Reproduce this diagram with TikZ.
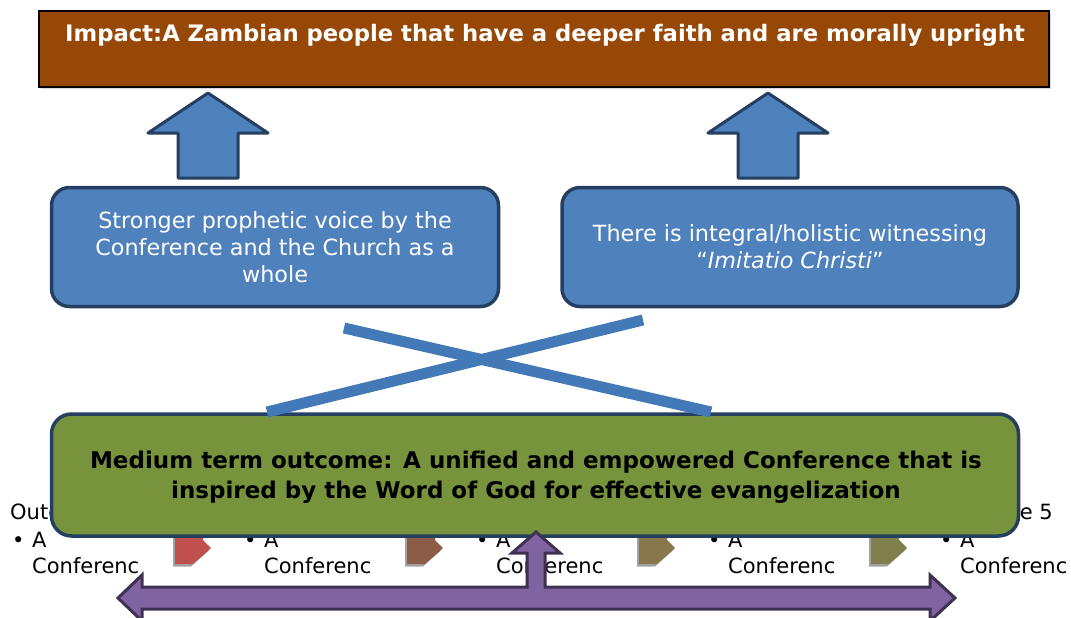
\documentclass[tikz,border=0pt]{standalone}
\usepackage{fontspec}
\setmainfont{DejaVu Sans}
\usetikzlibrary{shadows}

\definecolor{impactbrown}{RGB}{152,72,6}
\definecolor{boxblue}{RGB}{79,129,189}
\definecolor{crossblue}{RGB}{68,121,184}
\definecolor{navy}{RGB}{36,63,96}
\definecolor{outgreen}{RGB}{119,147,60}
\definecolor{lilac}{RGB}{128,100,162}
\definecolor{darklilac}{RGB}{63,49,81}
\definecolor{chevred}{RGB}{192,80,77}
\definecolor{chevbrown}{RGB}{140,92,70}
\definecolor{chevtan}{RGB}{136,118,76}
\definecolor{chevolive}{RGB}{128,128,76}

% block arrow pointing up, drawn from its tip
\def\blockup{-- ++(60,40) -- ++(-30,0) -- ++(0,45) -- ++(-60,0) -- ++(0,-45) -- ++(-30,0) -- cycle}

\tikzset{
  bluebox/.style={draw=navy, line width=3.5pt, fill=boxblue, rounded corners=18pt,
    text=white, align=center, font=\fontsize{22.3}{27}\selectfont},
  upblock/.style={draw=navy, line width=3pt, fill=boxblue, line join=round},
  crossbar/.style={crossblue, line width=11pt},
  coltext/.style={inner sep=0pt, font=\fontsize{21}{26}\selectfont},
  chevron/.style={drop shadow={shadow xshift=-2pt, shadow yshift=-2.5pt, opacity=0.6, fill=black!60}},
}

\begin{document}
\begin{tikzpicture}[x=1pt, y=-1pt]
\useasboundingbox (0,0) rectangle (1071,618);

% outcome columns lying behind the medium term box
\node[coltext, anchor=base west] (out1) at (10,519) {Outcome 1};
\node[coltext, anchor=base east] (out5) at (1053,519) {Outcome 5};
\foreach \c/\col in {0/chevred,1/chevbrown,2/chevtan,3/chevolive,4/} {
  \pgfmathsetmacro{\xo}{10+232*\c}
  \node[coltext, anchor=base west] (bul\c) at (\xo+2,547) {\textbullet};
  \node[coltext, anchor=base west] (a\c) at (\xo+22,547) {A};
  \node[coltext, anchor=base west] (conf\c) at (\xo+22,573) {Conferenc};
  \ifx\col\empty\else
    \fill[\col, chevron] (\xo+165,530) -- (\xo+193,530) -- (\xo+193,540) -- (\xo+201,548)
      -- (\xo+183,564) -- (\xo+165,564) -- cycle;
  \fi
}

% impact
\node[draw=black, line width=2pt, fill=impactbrown, minimum width=1010pt, minimum height=76pt,
  drop shadow={shadow xshift=2pt, shadow yshift=-2pt, opacity=0.3}] (impact) at (544,49) {};
\node[text=white, font=\bfseries\fontsize{22.7}{26}\selectfont] (impacttext) at (545,35)
  {Impact:A Zambian people that have a deeper faith and are morally upright};

\draw[upblock] (208,93) \blockup;
\draw[upblock] (768,93) \blockup;

% long term outcomes
\node[bluebox, minimum width=447pt, minimum height=119pt] (voice) at (275,247)
  {Stronger prophetic voice by the\\Conference and the Church as a\\whole};
\node[bluebox, minimum width=456pt, minimum height=119pt] (witness) at (790,247)
  {There is integral/holistic witnessing\\``\textit{Imitatio Christi}''};

% medium term outcome
\node[draw=navy, line width=3.5pt, fill=outgreen, rounded corners=20pt, minimum width=967pt,
  minimum height=122pt] (medium) at (535,475) {};
\node[align=center, font=\bfseries\fontsize{23}{30}\selectfont] (mediumtext) at (536,477)
  {Medium term outcome: A unified and empowered Conference that is\\inspired by the Word of God for effective evangelization};

\draw[crossbar] (344,328) -- (711,412);
\draw[crossbar] (643,320) -- (267,412);

% purple double arrow with its stem up to the medium term box
\draw[draw=darklilac, fill=lilac, line width=3pt, line join=miter] (118,598) -- (142,575) -- (142,587)
  -- (527,587) -- (527,553) -- (512,553) -- (536,532) -- (560,553) -- (545,553) -- (545,587)
  -- (930,587) -- (930,575) -- (955,598) -- (930,621) -- (930,609) -- (142,609) -- (142,621) -- cycle;
\end{tikzpicture}
\end{document}
